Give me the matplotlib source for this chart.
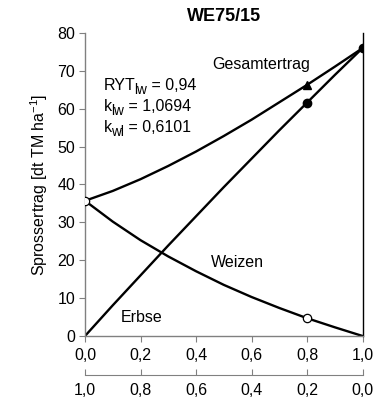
import matplotlib
matplotlib.use("Agg")
import matplotlib.pyplot as plt
from matplotlib.transforms import offset_copy

plt.rcParams["font.family"] = ["Liberation Sans", "DejaVu Sans"]
plt.rcParams["mathtext.fontset"] = "custom"
plt.rcParams["mathtext.rm"] = "Liberation Sans"
plt.rcParams["mathtext.it"] = "Liberation Sans"

# Anteil Erbse (oben) / Anteil Weizen (unten)
x = [0.0, 0.1, 0.2, 0.3, 0.4, 0.5, 0.6, 0.7, 0.8, 0.9, 1.0]
erbse = [0.0, 8.1, 16.0, 23.9, 31.6, 39.3, 46.8, 54.3, 61.6, 68.9, 76.0]
weizen = [35.7, 30.2, 25.3, 21.0, 17.1, 13.5, 10.3, 7.4, 4.7, 2.3, 0.0]
gesamt = [35.7, 38.3, 41.4, 44.9, 48.7, 52.8, 57.1, 61.7, 66.3, 71.1, 76.0]

# gemessene Punkte
weizen_obs_x = [0.0, 0.8]
weizen_obs = [35.7, 4.8]
erbse_obs_x = [0.8, 1.0]
erbse_obs = [61.5, 76.0]
gesamt_obs_x = [0.8]
gesamt_obs = [66.3]

ticks = [0.0, 0.2, 0.4, 0.6, 0.8, 1.0]
top_labels = ["0,0", "0,2", "0,4", "0,6", "0,8", "1,0"]
bottom_labels = ["1,0", "0,8", "0,6", "0,4", "0,2", "0,0"]

# Kennzahlen (Text, Index, Wert)
stats = [("RYT", "lw", "0,94"), ("k", "lw", "1,0694"), ("k", "wl", "0,6101")]

FS = 11.5

fig = plt.figure(figsize=(3.79, 4.05), dpi=100)
ax = fig.add_axes([0.2243, 0.1704, 0.7322, 0.7481])

ax.plot(x, erbse, color="black", lw=1.7, zorder=2)
ax.plot(x, weizen, color="black", lw=1.7, zorder=2)
ax.plot(x, gesamt, color="black", lw=1.7, zorder=2)

ax.plot(weizen_obs_x, weizen_obs, ls="none", marker="o", ms=6,
        mfc="white", mec="black", mew=0.9, zorder=4)
ax.plot(erbse_obs_x, erbse_obs, ls="none", marker="o", ms=6,
        mfc="black", mec="black", zorder=4)
ax.plot(gesamt_obs_x, gesamt_obs, ls="none", marker="^", ms=6,
        mfc="black", mec="black", zorder=4)

ax.set_xlim(0, 1.0)
ax.set_ylim(0, 80)
ax.set_xticks(ticks)
ax.set_xticklabels(top_labels, fontsize=FS)
ax.set_yticks(range(0, 81, 10))
ax.tick_params(axis="y", labelsize=FS, direction="out", length=4, color="#808080", pad=3)
ax.tick_params(axis="x", direction="out", length=4, color="#808080", pad=5)

ax.spines["top"].set_visible(False)
ax.spines["left"].set_color("#808080")
ax.spines["bottom"].set_color("#808080")
ax.spines["right"].set_color("black")
for s in ["left", "bottom", "right"]:
    ax.spines[s].set_linewidth(1.0)

sec = ax.secondary_xaxis(-0.129)
sec.set_xticks(ticks)
sec.set_xticklabels(bottom_labels, fontsize=FS)
sec.spines["bottom"].set_color("#808080")
sec.tick_params(direction="in", length=4, color="#808080", pad=6)

ax.set_ylabel("Sprossertrag [dt TM ha$^{-1}$]", fontsize=FS, labelpad=5)
ax.set_title("WE75/15", fontsize=13, fontweight="bold", pad=9)

ax.text(0.46, 71.8, "Gesamtertrag", fontsize=FS, va="center", ha="left")
ax.text(0.55, 19.5, "Weizen", fontsize=FS, va="center", ha="center")
ax.text(0.205, 5.0, "Erbse", fontsize=FS, va="center", ha="center")

# Kennzahlen mit grossen Indizes
renderer = fig.canvas.get_renderer()
y0 = 64.9
for name, sub, val in stats:
    t1 = ax.text(0.068, y0, name, fontsize=FS, va="baseline", ha="left")
    w1 = t1.get_window_extent(renderer).width * 72 / fig.dpi - 0.8
    tr = offset_copy(ax.transData, fig=fig, x=w1, y=-3.0, units="points")
    t2 = ax.text(0.068, y0, sub, fontsize=FS * 0.85, va="baseline", ha="left", transform=tr)
    w2 = t2.get_window_extent(renderer).width * 72 / fig.dpi
    tr2 = offset_copy(ax.transData, fig=fig, x=w1 + w2, y=0, units="points")
    ax.text(0.068, y0, " = " + val, fontsize=FS, va="baseline", ha="left", transform=tr2)
    y0 -= 5.5

fig.savefig("out.png", dpi=100)
